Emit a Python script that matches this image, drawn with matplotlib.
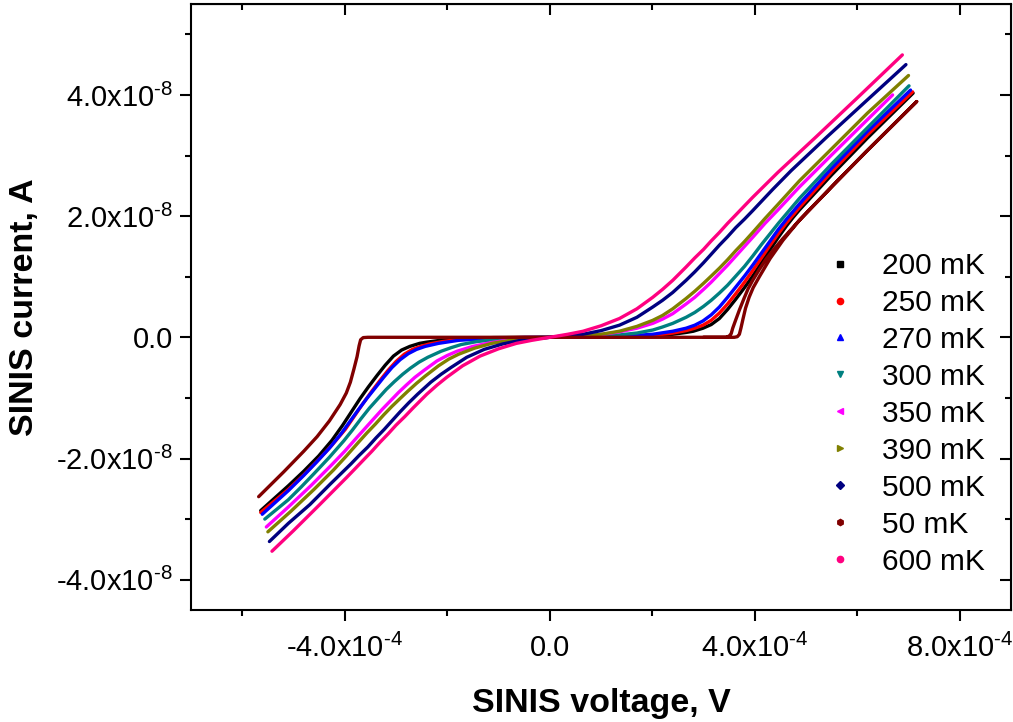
import matplotlib
matplotlib.use('Agg')
import matplotlib.pyplot as plt
from matplotlib.lines import Line2D
from matplotlib.ticker import FixedLocator, FuncFormatter
import numpy as np

plt.rcParams['font.family'] = ['Liberation Sans', 'DejaVu Sans']
plt.rcParams['mathtext.fontset'] = 'custom'
plt.rcParams['mathtext.rm'] = 'Liberation Sans'
plt.rcParams['mathtext.it'] = 'Liberation Sans:italic'
plt.rcParams['mathtext.bf'] = 'Liberation Sans:bold'
plt.rcParams['axes.unicode_minus'] = False

# voltages in 1e-4 V, currents in 1e-8 A
v_200 = [-5.64, -5.10, -4.80, -4.51, -4.25, -4.04, -3.87, -3.70, -3.54, -3.37, -3.21, -3.05, -2.89, -2.73,
         -2.54, -2.40, -2.14, -1.75, -1.10, -0.50, 0.00,
         0.70, 1.36, 2.01, 2.40, 2.66, 2.80, 2.99, 3.15, 3.31, 3.47, 3.63, 3.80, 3.96, 4.13, 4.30, 4.46,
         4.62, 4.75, 4.87, 5.50, 6.20, 7.09]
i_200 = [-2.86, -2.45, -2.21, -1.96, -1.70, -1.45, -1.23, -1.01, -0.82, -0.63, -0.46, -0.31, -0.21, -0.15,
         -0.10, -0.08, -0.05, -0.02, -0.005, -0.001, 0.00,
         0.001, 0.005, 0.02, 0.05, 0.08, 0.10, 0.15, 0.21, 0.31, 0.46, 0.63, 0.82, 1.01, 1.23, 1.45, 1.65,
         1.84, 1.98, 2.10, 2.68, 3.29, 4.03]

v_250 = [-5.64, -5.10, -4.80, -4.50, -4.25, -3.99, -3.82, -3.65, -3.49, -3.32, -3.16, -3.00, -2.84, -2.68,
         -2.52, -2.35, -2.09, -1.70, -1.00, -0.50, 0.00,
         0.70, 1.36, 2.01, 2.40, 2.66, 2.83, 2.99, 3.15, 3.31, 3.47, 3.63, 3.80, 3.96, 4.13, 4.30, 4.46,
         4.62, 4.75, 4.87, 5.50, 6.20, 7.08]
i_250 = [-2.89, -2.51, -2.27, -2.01, -1.78, -1.52, -1.31, -1.10, -0.91, -0.72, -0.55, -0.40, -0.28, -0.20,
         -0.15, -0.11, -0.07, -0.03, -0.008, -0.002, 0.00,
         0.002, 0.008, 0.03, 0.07, 0.11, 0.15, 0.20, 0.28, 0.40, 0.55, 0.72, 0.91, 1.10, 1.31, 1.52, 1.71,
         1.89, 2.02, 2.14, 2.73, 3.34, 4.05]

v_270 = [-5.61, -5.10, -4.80, -4.55, -4.30, -4.07, -3.90, -3.73, -3.57, -3.40, -3.24, -3.08, -2.92, -2.76,
         -2.60, -2.43, -2.17, -1.78, -1.13, -0.50, 0.00,
         0.60, 1.36, 2.01, 2.40, 2.66, 2.83, 2.99, 3.15, 3.31, 3.47, 3.63, 3.80, 3.96, 4.13, 4.30, 4.46,
         4.62, 4.75, 4.87, 5.50, 6.20, 7.04]
i_270 = [-2.92, -2.53, -2.28, -2.06, -1.83, -1.59, -1.39, -1.19, -1.01, -0.83, -0.66, -0.50, -0.37, -0.27,
         -0.20, -0.15, -0.10, -0.05, -0.015, -0.003, 0.00,
         0.003, 0.015, 0.05, 0.10, 0.15, 0.20, 0.27, 0.37, 0.50, 0.66, 0.83, 1.01, 1.19, 1.39, 1.59, 1.78,
         1.95, 2.08, 2.20, 2.79, 3.40, 4.08]

v_300 = [-5.56, -5.10, -4.85, -4.60, -4.30, -4.02, -3.85, -3.68, -3.52, -3.35, -3.19, -3.03, -2.87, -2.72,
         -2.55, -2.38, -2.12, -1.92, -1.73, -1.42, -1.08, -0.40, 0.00,
         0.65, 1.36, 1.70, 2.01, 2.20, 2.40, 2.66, 2.83, 3.00, 3.15, 3.31, 3.47, 3.63, 3.80, 3.96, 4.13,
         4.30, 4.46, 4.62, 4.75, 4.87, 5.50, 6.20, 7.01]
i_300 = [-3.00, -2.68, -2.47, -2.25, -1.98, -1.71, -1.53, -1.34, -1.17, -1.01, -0.86, -0.73, -0.61, -0.51,
         -0.41, -0.33, -0.23, -0.17, -0.12, -0.07, -0.04, -0.008, 0.00,
         0.008, 0.04, 0.07, 0.12, 0.17, 0.23, 0.33, 0.41, 0.51, 0.61, 0.73, 0.86, 1.01, 1.17, 1.34, 1.53,
         1.71, 1.88, 2.04, 2.17, 2.29, 2.86, 3.46, 4.15]

v_350 = [-5.53, -5.10, -4.65, -4.25, -4.00, -3.76, -3.60, -3.43, -3.27, -3.11, -2.95, -2.80, -2.63, -2.46,
         -2.20, -2.00, -1.81, -1.50, -1.16, -0.80, -0.45, 0.00,
         0.65, 1.00, 1.36, 1.70, 2.01, 2.20, 2.40, 2.66, 2.83, 3.00, 3.15, 3.31, 3.47, 3.63, 3.80, 3.96,
         4.20, 4.45, 4.87, 5.50, 6.10, 6.69]
i_350 = [-3.13, -2.80, -2.44, -2.10, -1.88, -1.65, -1.50, -1.34, -1.19, -1.05, -0.91, -0.79, -0.66, -0.55,
         -0.39, -0.30, -0.23, -0.15, -0.09, -0.045, -0.02, 0.00,
         0.02, 0.045, 0.09, 0.15, 0.23, 0.30, 0.39, 0.55, 0.66, 0.79, 0.91, 1.05, 1.19, 1.34, 1.50, 1.65,
         1.88, 2.10, 2.48, 3.01, 3.51, 4.00]

v_390 = [-5.50, -5.05, -4.60, -4.22, -3.97, -3.73, -3.57, -3.40, -3.24, -3.08, -2.92, -2.77, -2.60, -2.43,
         -2.17, -1.97, -1.78, -1.47, -1.13, -0.77, -0.42, 0.00,
         0.65, 1.00, 1.36, 1.70, 2.01, 2.20, 2.40, 2.66, 2.83, 3.00, 3.15, 3.31, 3.47, 3.63, 3.80, 3.96,
         4.20, 4.45, 4.87, 5.50, 6.20, 7.00]
i_390 = [-3.21, -2.87, -2.51, -2.19, -1.96, -1.73, -1.58, -1.43, -1.28, -1.14, -1.01, -0.89, -0.76, -0.64,
         -0.47, -0.36, -0.28, -0.18, -0.10, -0.05, -0.02, 0.00,
         0.02, 0.05, 0.10, 0.18, 0.28, 0.36, 0.47, 0.64, 0.76, 0.89, 1.01, 1.14, 1.28, 1.43, 1.58, 1.73,
         1.96, 2.19, 2.58, 3.11, 3.70, 4.32]

v_500 = [-5.47, -5.10, -4.68, -4.28, -3.88, -3.72, -3.55, -3.39, -3.23, -3.07, -2.92, -2.75, -2.58, -2.32,
         -2.12, -1.93, -1.62, -1.28, -0.92, -0.57, 0.00,
         0.65, 1.00, 1.36, 1.70, 2.01, 2.20, 2.40, 2.66, 2.83, 3.00, 3.15, 3.31, 3.47, 3.63, 3.80, 3.96,
         4.35, 4.71, 5.40, 6.20, 6.95]
i_500 = [-3.37, -3.07, -2.76, -2.42, -2.09, -1.95, -1.81, -1.66, -1.52, -1.37, -1.23, -1.08, -0.94, -0.74,
         -0.61, -0.50, -0.33, -0.20, -0.11, -0.05, 0.00,
         0.05, 0.11, 0.20, 0.33, 0.50, 0.61, 0.74, 0.94, 1.08, 1.23, 1.37, 1.52, 1.66, 1.81, 1.95, 2.09,
         2.44, 2.75, 3.30, 3.92, 4.50]

# 50 mK: sweep up, then back down through the gap edge (hysteresis)
v_50 = [-5.68, -5.19, -4.80, -4.54, -4.30, -4.09, -3.97, -3.89, -3.82, -3.76, -3.72, -3.69, -3.64, -3.55,
        0.00, 3.44, 3.50, 3.54, 3.57, 3.63, 3.70, 3.79, 3.87, 3.96, 4.09, 4.22, 4.38, 4.55, 4.87, 5.52,
        6.17, 7.16,
        6.17, 5.52, 4.87, 4.55, 4.30, 4.09, 3.97, 3.89, 3.82, 3.77, 3.73, 3.70, 3.66, 3.60, 3.00]
i_50 = [-2.63, -2.22, -1.88, -1.64, -1.38, -1.11, -0.92, -0.74, -0.52, -0.32, -0.14, -0.04, -0.005, 0.00,
        0.00, 0.00, 0.02, 0.06, 0.15, 0.29, 0.45, 0.64, 0.80, 0.94, 1.12, 1.29, 1.46, 1.63, 1.93, 2.50,
        3.06, 3.89,
        3.06, 2.50, 1.93, 1.60, 1.30, 1.00, 0.82, 0.66, 0.48, 0.30, 0.15, 0.05, 0.01, 0.00, 0.00]

v_600 = [-5.42, -5.00, -4.50, -3.96, -3.80, -3.63, -3.47, -3.31, -3.15, -3.00, -2.83, -2.66, -2.40, -2.20,
         -2.01, -1.70, -1.36, -1.00, -0.65, -0.35, 0.00,
         0.35, 0.65, 1.00, 1.36, 1.70, 2.01, 2.20, 2.40, 2.66, 2.83, 3.00, 3.15, 3.31, 3.47, 3.63, 3.80,
         3.96, 4.45, 5.20, 6.00, 6.88]
i_600 = [-3.53, -3.19, -2.77, -2.31, -2.17, -2.02, -1.88, -1.73, -1.59, -1.45, -1.31, -1.16, -0.94, -0.79,
         -0.66, -0.47, -0.31, -0.19, -0.10, -0.05, 0.00,
         0.05, 0.10, 0.19, 0.31, 0.47, 0.66, 0.79, 0.94, 1.16, 1.31, 1.45, 1.59, 1.73, 1.88, 2.02, 2.17,
         2.31, 2.72, 3.31, 3.95, 4.66]

labels = ['200 mK', '250 mK', '270 mK', '300 mK', '350 mK', '390 mK', '500 mK', '50 mK', '600 mK']
volts = [v_200, v_250, v_270, v_300, v_350, v_390, v_500, v_50, v_600]
currs = [i_200, i_250, i_270, i_300, i_350, i_390, i_500, i_50, i_600]
colors = ['#000000', '#ff0000', '#0000ff', '#008080', '#ff00ff', '#808000', '#000080', '#800000', '#ff0080']
markers = ['s', 'o', '^', 'v', '<', '>', 'D', 'h', 'o']

fig = plt.figure(figsize=(10.13, 7.22), dpi=100)
ax = fig.add_axes([191 / 1013, 1 - 610 / 722, 820 / 1013, 606 / 722])

for v, c, col in zip(volts, currs, colors):
    ax.plot(np.array(v) * 1e-4, np.array(c) * 1e-8, '-', color=col, lw=2.4,
            solid_capstyle='round', solid_joinstyle='round')

ax.set_xlim(-7e-4, 9e-4)
ax.set_ylim(-4.5e-8, 5.5e-8)


def sci_fmt(exp):
    def f(val, pos):
        if abs(val) < 1e-20:
            return '0.0'
        return '%.1fx10$^{\u2010%d}$' % (val / 10 ** exp, -exp)
    return FuncFormatter(f)


ax.xaxis.set_major_locator(FixedLocator([-4e-4, 0, 4e-4, 8e-4]))
ax.xaxis.set_minor_locator(FixedLocator([-6e-4, -2e-4, 2e-4, 6e-4]))
ax.yaxis.set_major_locator(FixedLocator([-4e-8, -2e-8, 0, 2e-8, 4e-8]))
ax.yaxis.set_minor_locator(FixedLocator([-3e-8, -1e-8, 1e-8, 3e-8, 5e-8]))
ax.xaxis.set_major_formatter(sci_fmt(-4))
ax.yaxis.set_major_formatter(sci_fmt(-8))

for s in ax.spines.values():
    s.set_linewidth(1.5)
ax.tick_params(which='both', direction='out', width=1.5, labelsize=21, top=False, right=False)
ax.tick_params(which='major', length=8, pad=5)
ax.tick_params(axis='x', which='major', pad=9)
ax.tick_params(which='minor', length=4.5)

# inward ticks on top and right without labels
axt = ax.secondary_xaxis('top')
axt.xaxis.set_major_locator(FixedLocator([-4e-4, 0, 4e-4, 8e-4]))
axt.xaxis.set_minor_locator(FixedLocator([-6e-4, -2e-4, 2e-4, 6e-4]))
axt.tick_params(which='both', direction='in', width=1.5, labeltop=False)
axt.tick_params(which='major', length=8)
axt.tick_params(which='minor', length=4.5)
axr = ax.secondary_yaxis('right')
axr.yaxis.set_major_locator(FixedLocator([-4e-8, -2e-8, 0, 2e-8, 4e-8]))
axr.yaxis.set_minor_locator(FixedLocator([-3e-8, -1e-8, 1e-8, 3e-8, 5e-8]))
axr.tick_params(which='both', direction='in', width=1.5, labelright=False)
axr.tick_params(which='major', length=8)
axr.tick_params(which='minor', length=4.5)

ax.set_xlabel('SINIS voltage, V', fontsize=24.5, fontweight='bold', labelpad=18)
ax.set_ylabel('SINIS current, A', fontsize=24.5, fontweight='bold', labelpad=12)

handles = [Line2D([], [], ls='none', marker=m, color=col, markersize=4.5) for m, col in zip(markers, colors)]
ax.legend(handles, labels, loc='upper left', bbox_to_anchor=(825 / 1013, 1 - 252 / 722),
          bbox_transform=fig.transFigure, frameon=False, fontsize=21.5, handlelength=1.0,
          handletextpad=0.9, labelspacing=0.30, borderpad=0, borderaxespad=0)

fig.savefig('out.png', dpi=100)
